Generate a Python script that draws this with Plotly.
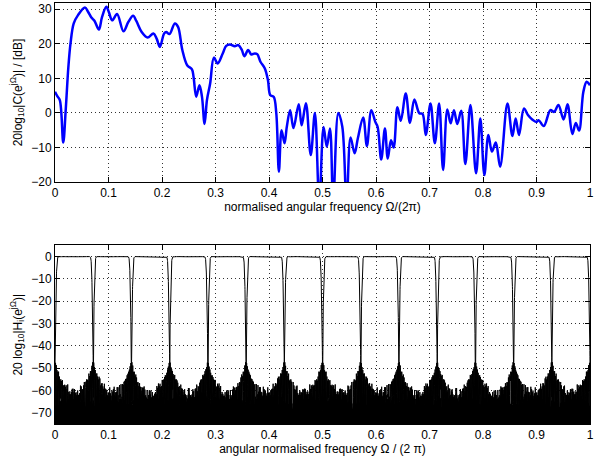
import numpy as np
import plotly.graph_objects as go

# ---- top panel: equaliser magnitude ----
f_top = [0.000, 0.004, 0.009, 0.0154, 0.020, 0.025, 0.029, 0.035, 0.043, 0.056,
         0.062, 0.068, 0.074, 0.082, 0.088, 0.096, 0.1006, 0.107, 0.116, 0.128,
         0.137, 0.146, 0.152, 0.162, 0.173, 0.184, 0.190, 0.196, 0.204, 0.208,
         0.214, 0.224, 0.230, 0.238, 0.247, 0.256, 0.259, 0.264, 0.270, 0.2747,
         0.2796, 0.284, 0.290, 0.297, 0.304, 0.3135, 0.320, 0.327, 0.336, 0.3426,
         0.349, 0.354, 0.361, 0.367, 0.3735, 0.378, 0.384, 0.392, 0.398, 0.4025,
         0.4087, 0.4136, 0.4185, 0.4235, 0.429, 0.4333, 0.4395, 0.4457, 0.4556, 0.461,
         0.469, 0.478, 0.4858, 0.494, 0.502, 0.508, 0.514, 0.520, 0.5296, 0.537,
         0.545, 0.5525, 0.560, 0.566, 0.576, 0.583, 0.5913, 0.5987, 0.603, 0.6098,
         0.6167, 0.622, 0.628, 0.633, 0.640, 0.6463, 0.6556, 0.6635, 0.6717, 0.681,
         0.687, 0.693, 0.7019, 0.710, 0.718, 0.7254, 0.7333, 0.7395, 0.7457, 0.7519,
         0.7593, 0.767, 0.7765, 0.787, 0.795, 0.8025, 0.810, 0.8167, 0.824, 0.832,
         0.8457, 0.855, 0.861, 0.8673, 0.8765, 0.884, 0.892, 0.900, 0.904, 0.9136,
         0.926, 0.933, 0.941, 0.9506, 0.958, 0.967, 0.9735, 0.9796, 0.9876, 0.9938,
         1.000]
c_db = [6.1, 4.9, 3.7, -8.6, 0.8, 13.3, 20.1, 25.9, 28.3, 30.5,
        29.2, 27.6, 26.6, 24.1, 27.8, 30.7, 29.2, 26.8, 28.6, 23.6,
        26.3, 28.1, 26.6, 23.4, 21.8, 23.0, 21.5, 19.1, 23.0, 23.4,
        22.8, 25.9, 24.9, 18.2, 13.8, 12.6, 10.4, 4.7, 8.0, 4.7,
        -3.2, 3.7, 8.5, 16.0, 14.3, 17.2, 19.4, 19.8, 19.3, 19.6,
        18.3, 16.4, 18.2, 16.9, 17.2, 17.0, 14.8, 12.9, 9.5, 5.1,
        4.7, -0.1, -17.0, -5.0, -8.8, -4.0, 0.8, -4.4, 2.5, -3.6,
        2.8, -12.2, 0.0, -26.0, -4.1, -9.8, -4.5, -26.0, 0.0, -4.0,
        -26.0, -7.1, -11.7, -7.4, -1.3, -9.6, 0.8, -2.6, -4.0, -13.5,
        -4.5, -13.2, -7.9, -10.0, 1.6, -2.3, 5.6, -2.9, 3.9, -0.1,
        -0.3, -6.4, 2.7, -8.8, 2.7, -16.5, 1.0, -3.0, 0.8, -3.2,
        0.6, -14.8, 2.3, -17.5, -1.6, -18.0, -6.4, -11.2, -8.6, -15.6,
        2.7, -6.7, -1.6, -6.4, 1.3, -0.6, -1.9, -2.6, -2.1, -3.8,
        0.8, 0.3, 2.3, -1.9, 2.5, -6.1, -2.9, -5.1, 6.1, 9.0,
        8.0]

# ---- bottom panel: 14-channel complex filter bank (fixed-point FIR model) ----
band_edges = [0.0, 0.071429, 0.142857, 0.214286, 0.285714, 0.357143, 0.428571,
              0.5, 0.571429, 0.642857, 0.714286, 0.785714, 0.857143, 0.928571, 1.0]
n_taps = 701
kaiser_beta = 6.5
edge_weight = 0.06       # weight of the slowly-decaying edge-taper term
edge_exponent = -0.4
transition = 0.006
coef_step = 1.7e-5
n_fft = 8192

freqs = np.arange(n_fft + 1) / n_fft
n = np.arange(n_taps) - (n_taps - 1) / 2
t = n / ((n_taps + 1) / 2)
win = np.kaiser(n_taps, kaiser_beta) + edge_weight * (1 - t ** 2) ** edge_exponent

fig = go.Figure()
fig.add_trace(go.Scatter(x=f_top, y=c_db, mode='lines',
                         line=dict(color='#0000ff', width=2.5, shape='spline', smoothing=1.0),
                         xaxis='x', yaxis='y', showlegend=False, hoverinfo='skip'))

for k in range(len(band_edges) - 1):
    lo, hi = band_edges[k], band_edges[k + 1]
    fc = 0.5 * (lo + hi)
    hb = 0.5 * (hi - lo) - 0.5 * transition
    lp = 2 * hb * np.sinc(2 * hb * n) * win
    lp = lp / lp.sum()
    h = lp * np.exp(2j * np.pi * fc * n)
    h = (np.round(h.real / coef_step) + 1j * np.round(h.imag / coef_step)) * coef_step
    H = np.fft.fft(h, n_fft)
    H = np.append(H, H[0])
    db = 20 * np.log10(np.abs(H) + 1e-9)
    db = np.round(np.maximum(db, -110), 2)
    fig.add_trace(go.Scatter(x=freqs, y=db, mode='lines',
                             line=dict(color='black', width=1),
                             xaxis='x2', yaxis='y2', showlegend=False, hoverinfo='skip'))

font = dict(family='Liberation Sans, Arial, sans-serif', size=12, color='black')
axcommon = dict(showline=True, linecolor='black', linewidth=1, mirror='ticks',
                ticks='inside', ticklen=5, tickcolor='black', showgrid=True,
                gridcolor='#333', griddash='1px,3px', gridwidth=1, zeroline=False,
                tickfont=font, ticklabeloverflow='allow')

fig.update_layout(
    width=595, height=462,
    margin=dict(l=55, r=1, t=3, b=38),
    paper_bgcolor='white', plot_bgcolor='white',
    xaxis=dict(axcommon, domain=[0, 1], range=[0, 1], dtick=0.1, tick0=0,
               anchor='y', title=dict(text='normalised angular frequency Ω/(2π)', font=font, standoff=3)),
    yaxis=dict(axcommon, domain=[0.5748, 1], range=[-20, 31.8], dtick=10, tick0=0,
               anchor='x', title=dict(text='20log<sub>10</sub>|C(e<sup>jΩ</sup>)| / [dB]', font=font, standoff=6)),
    xaxis2=dict(axcommon, domain=[0, 1], range=[0, 1], dtick=0.1, tick0=0,
                anchor='y2', title=dict(text='angular normalised frequency Ω / (2 π)', font=font, standoff=1)),
    yaxis2=dict(axcommon, domain=[0, 0.424], range=[-75, 5], dtick=10, tick0=0,
                anchor='x2', title=dict(text='20 log<sub>10</sub>|H<sub>i</sub>(e<sup>jΩ</sup>)|', font=font, standoff=6)),
)

fig.write_html("out.html", config={'displayModeBar': False},
               post_script="document.body.style.margin='0';")
